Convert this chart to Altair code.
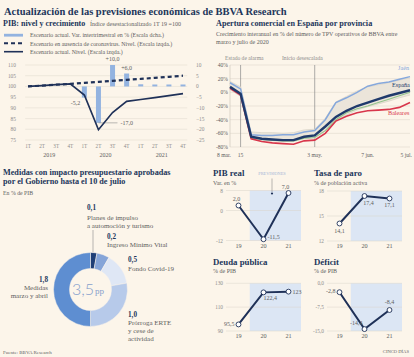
import altair as alt
import pandas as pd

# ---------------- data ----------------
quarter_labels = ["1T", "2T", "3T", "4T"] * 3
year_labels = ["2019", "2020", "2021"]
level_no_covid = [100.0, 100.4, 100.8, 101.2, 101.7, 102.1, 102.6, 103.1, 103.5, 104.0, 104.5, 105.0]
level_actual = [100.0, 100.4, 100.8, 101.2, 96.0, 79.8, 87.8, 93.0, 93.9, 94.8, 95.7, 96.6]
qoq_quarter = [4, 5, 6, 7, 8, 9, 10, 11]
qoq_change = [-5.2, -17.0, 10.0, 6.0, 1.0, 0.9, 0.9, 0.9]
left_ticks = [110, 105, 100, 95, 90, 85, 80, 75]
right_ticks = [10, 5, 0, -5, -10, -15, -20, -25]

week_dates = pd.date_range("2020-03-08", "2020-07-05", freq="7D")
espana = [8, -2, -65, -68, -69, -70, -70, -65, -63, -50, -36, -27, -20, -15, -10, -5, -1, 3]
jaen = [14, 5, -62, -63, -63, -62, -62, -58, -56, -40, -15, -8, 0, 9, 13, 15, 19, 23]
baleares = [6, -4, -68, -72, -74, -75, -76, -71, -70, -60, -42, -35, -30, -27, -26, -25, -22, -15]
otra = [7, -3, -67, -69, -70, -71, -71, -67, -66, -56, -40, -30, -24, -20, -15, -10, -5, 0]
resto_max = [16, 8, -58, -59, -59, -60, -59, -55, -54, -38, -14, -6, 2, 8, 11, 14, 18, 21]
resto_min = [4, -6, -68, -70, -71, -72, -72, -68, -67, -57, -42, -33, -26, -21, -17, -13, -8, -4]
apertura_ticks = [40, 20, 0, -20, -40, -60, -80]
apertura_xlabels = ["8 mar.", "15", "3 may.", "7 jun.", "5 jul."]
apertura_xdates = pd.to_datetime(["2020-03-08", "2020-03-15", "2020-05-03", "2020-06-07", "2020-07-05"])
event_dates = pd.to_datetime(["2020-03-15", "2020-05-03"])

medidas_labels = ["Planes de impulso", "Ingreso Mínimo Vital", "Fondo Covid-19",
                  "Prórroga ERTE", "Medidas marzo y abril"]
medidas_values = [0.1, 0.2, 0.5, 1.0, 1.8]

small_years = [19, 20, 21]
pib_real = [2.0, -11.5, 7.0]
pib_real_txt = ["2,0", "-11,5", "7,0"]
paro = [14.1, 17.4, 17.1]
paro_txt = ["14,1", "17,4", "17,1"]
deuda = [95.5, 122.4, 123.0]
deuda_txt = ["95,5", "122,4", "123"]
deficit = [-2.8, -14.4, -8.4]
deficit_txt = ["-2,8", "-14,4", "-8,4"]

# ---------------- style ----------------
BG = "#fcf5ea"
NAVY = "#1f3158"
HEAD = "#22365a"
GREY = "#5e5e5e"
LGREY = "#8c8c8c"
GRID = "#e4ddd1"
BAR = "#93b3e0"
SHADE = "#dce6f4"
SERIF = "Liberation Serif"
DONUT_COLORS = ["#1f3f77", "#86a5d8", "#dfe7f5", "#b7caea", "#5e8ed1"]

ONE = pd.DataFrame({"k": [0]})


def T(s, x, y, size=6.0, color=GREY, weight="normal", align="left", font=SERIF, **kw):
    return alt.Chart(ONE).mark_text(
        font=font, fontSize=size, fontWeight=weight, color=color,
        align=align, baseline="middle", **kw
    ).encode(x=alt.value(x), y=alt.value(y), text=alt.value(s))


def R(x1, y1, x2, y2, color=NAVY, width=1.0, dash=None):
    kw = dict(color=color, strokeWidth=width)
    if dash:
        kw["strokeDash"] = dash
    return alt.Chart(ONE).mark_rule(**kw).encode(
        x=alt.value(x1), y=alt.value(y1), x2=alt.value(x2), y2=alt.value(y2))


layers = []

# ---------------- headings ----------------
layers.append(T("Actualización de las previsiones económicas de BBVA Research", 4, 12, 10.5, HEAD, "bold"))

# ================= PIB: nivel y crecimiento =================
layers.append(T("PIB: nivel y crecimiento", 3, 24, 8.0, HEAD, "bold"))
layers.append(T("Índice desestacionalizado 1T 19 =100", 90, 24.3, 6.0, GREY))
layers.append(alt.Chart(ONE).mark_rect(color=BAR).encode(
    x=alt.value(4), x2=alt.value(23), y=alt.value(33.8), y2=alt.value(36.6)))
layers.append(R(4, 43.3, 23, 43.3, NAVY, 2.0, [4, 3]))
layers.append(R(4, 51.7, 23, 51.7, NAVY, 1.6))
layers.append(T("Escenario actual. Var. intertrimestral en % (Escala dcha.)", 30, 35.2, 5.9, GREY))
layers.append(T("Escenario en ausencia de coronavirus. Nivel. (Escala izqda.)", 30, 43.5, 5.9, GREY))
layers.append(T("Escenario actual. Nivel. (Escala izqda.)", 30, 51.8, 5.9, GREY))

XP = alt.Scale(domain=[0, 11], range=[23, 188], nice=False, zero=False)
YL = alt.Scale(domain=[75, 110], range=[140, 65], nice=False, zero=False)
YR = alt.Scale(domain=[-25, 10], range=[140, 65], nice=False, zero=False)

pib_df = pd.DataFrame({"i": list(range(12)), "q": quarter_labels,
                       "nc": level_no_covid, "act": level_actual})
qoq_df = pd.DataFrame({"i": qoq_quarter, "v": qoq_change,
                       "t": [("+" if v > 0 else "") + f"{v:.1f}".replace(".", ",") for v in qoq_change]})
rt_df = pd.DataFrame({"v": right_ticks})
lt_df = pd.DataFrame({"v": left_ticks})
yr_df = pd.DataFrame({"p": [4 * k + 1.5 for k in range(3)], "y": year_labels})

xq = alt.X("i:Q", scale=XP, axis=None)
right_group = alt.layer(
    alt.Chart(rt_df).mark_rule(color=GRID, strokeWidth=0.6).encode(
        y=alt.Y("v:Q", scale=YR, axis=None),
        x=alt.XDatum(-0.2, scale=XP, axis=None), x2=alt.X2Datum(11.3)),
    alt.Chart(rt_df).mark_text(align="left", baseline="middle", font=SERIF, fontSize=5.4, color=LGREY).encode(
        y=alt.Y("v:Q", scale=YR, axis=None), x=alt.value(196), text=alt.Text("v:Q", format="d")),
    alt.Chart(qoq_df).mark_bar(size=5, color=BAR).encode(
        x=xq, y=alt.Y("v:Q", scale=YR, axis=None), y2=alt.Y2Datum(0)),
    alt.Chart(qoq_df[qoq_df.i.isin([6, 7])]).mark_text(
        align="center", baseline="middle", dy=-6, font=SERIF, fontSize=6, color=GREY).encode(
        x=xq, y=alt.Y("v:Q", scale=YR, axis=None), text="t:N"),
    alt.Chart(qoq_df[qoq_df.i == 4]).mark_text(
        align="right", baseline="middle", dx=-4, dy=5, font=SERIF, fontSize=6, color=GREY).encode(
        x=xq, y=alt.Y("v:Q", scale=YR, axis=None), text="t:N"),
    alt.Chart(qoq_df[qoq_df.i == 5]).mark_rule(color=LGREY, strokeWidth=0.6).encode(
        x=xq, x2=alt.X2Datum(6.35), y=alt.Y("v:Q", scale=YR, axis=None)),
    alt.Chart(qoq_df[qoq_df.i == 5]).mark_text(
        align="left", baseline="middle", dx=22, font=SERIF, fontSize=6, color=GREY).encode(
        x=xq, y=alt.Y("v:Q", scale=YR, axis=None), text="t:N"),
    alt.Chart(pib_df).mark_text(baseline="middle", font=SERIF, fontSize=5.2, color=LGREY).encode(
        x=xq, y=alt.value(145.5), text="q:N"),
    alt.Chart(yr_df).mark_text(baseline="middle", font=SERIF, fontSize=6, color=GREY).encode(
        x=alt.X("p:Q", scale=XP, axis=None), y=alt.value(154.5), text="y:N"),
)
left_group = alt.layer(
    alt.Chart(lt_df).mark_text(align="right", baseline="middle", font=SERIF, fontSize=5.4, color=LGREY).encode(
        y=alt.Y("v:Q", scale=YL, axis=None), x=alt.value(16), text=alt.Text("v:Q", format="d")),
    alt.Chart(pib_df).mark_line(color=NAVY, strokeWidth=1.7).encode(
        x=xq, y=alt.Y("act:Q", scale=YL, axis=None)),
    alt.Chart(pib_df).mark_line(color=NAVY, strokeWidth=2.2, strokeDash=[4, 3]).encode(
        x=xq, y=alt.Y("nc:Q", scale=YL, axis=None)),
)
layers.append(alt.layer(right_group, left_group).resolve_scale(y="independent"))

# ================= Apertura comercial =================
layers.append(T("Apertura comercial en España por provincia", 216, 24, 8.2, HEAD, "bold"))
layers.append(T("Crecimiento interanual en % del número de TPV operativos de BBVA entre", 216, 34.3, 6.0, GREY))
layers.append(T("marzo y julio de 2020", 216, 42.3, 6.0, GREY))
layers.append(T("Estado de alarma", 225, 57.5, 5.6, LGREY))
layers.append(T("Inicio desescalada", 282, 57.5, 5.6, LGREY))

XA = alt.Scale(domain=[alt.DateTime(year=2020, month=3, date=8), alt.DateTime(year=2020, month=7, date=5)],
               range=[230, 410], nice=False)
YA = alt.Scale(domain=[-80, 40], range=[147, 65], nice=False, zero=False)
ap_df = pd.DataFrame({"d": week_dates, "es": espana, "ja": jaen, "ba": baleares, "ot": otra,
                      "hi": resto_max, "lo": resto_min})
ag_df = pd.DataFrame({"v": apertura_ticks, "t": [f"{v}%" for v in apertura_ticks],
                      "d0": week_dates[0], "d1": week_dates[-1]})
axl_df = pd.DataFrame({"d": apertura_xdates, "t": apertura_xlabels})
ev_df = pd.DataFrame({"d": event_dates})
xa = alt.X("d:T", scale=XA, axis=None)


def ya(f):
    return alt.Y(f, scale=YA, axis=None)


layers.append(alt.layer(
    alt.Chart(ag_df).mark_rule(color=GRID, strokeWidth=0.7).encode(
        y=ya("v:Q"), x=alt.X("d0:T", scale=XA, axis=None), x2="d1:T"),
    alt.Chart(ag_df.iloc[[0]]).mark_rule(color="#cfc8bc", strokeWidth=0.7).encode(
        x=alt.X("d0:T", scale=XA, axis=None), y=alt.YDatum(40, scale=YA, axis=None), y2=alt.Y2Datum(-80)),
    alt.Chart(ag_df).mark_text(align="right", baseline="middle", font=SERIF, fontSize=5.6, color=GREY).encode(
        y=ya("v:Q"), x=alt.value(228), text="t:N"),
    alt.Chart(ev_df).mark_rule(color="#8a8a8a", strokeWidth=0.7).encode(
        x=xa, y=alt.YDatum(40, scale=YA, axis=None), y2=alt.Y2Datum(-80)),
    alt.Chart(axl_df.iloc[[0]]).mark_text(align="right", baseline="middle", dx=1, font=SERIF, fontSize=5.6, color=GREY).encode(
        x=xa, y=alt.value(155), text="t:N"),
    alt.Chart(axl_df.iloc[1:4]).mark_text(align="center", baseline="middle", font=SERIF, fontSize=5.6, color=GREY).encode(
        x=xa, y=alt.value(155), text="t:N"),
    alt.Chart(axl_df.iloc[[4]]).mark_text(align="right", baseline="middle", dx=2, font=SERIF, fontSize=5.6, color=GREY).encode(
        x=xa, y=alt.value(155), text="t:N"),
    alt.Chart(ap_df).mark_area(color="#ebe5da", opacity=1).encode(x=xa, y=ya("lo:Q"), y2="hi:Q"),
    alt.Chart(ap_df).mark_line(color="#d8d2c6", strokeWidth=0.7).encode(x=xa, y=ya("hi:Q")),
    alt.Chart(ap_df).mark_line(color="#d8d2c6", strokeWidth=0.7).encode(x=xa, y=ya("lo:Q")),
    alt.Chart(ap_df).mark_line(color="#93c48b", strokeWidth=1.1).encode(x=xa, y=ya("ot:Q")),
    alt.Chart(ap_df).mark_line(color="#86a8dc", strokeWidth=1.5).encode(x=xa, y=ya("ja:Q")),
    alt.Chart(ap_df).mark_line(color="#d8364b", strokeWidth=1.6).encode(x=xa, y=ya("ba:Q")),
    alt.Chart(ap_df).mark_line(color="#1f3a6b", strokeWidth=2.4).encode(x=xa, y=ya("es:Q")),
))
layers.append(T("Jaén", 398, 68, 6.2, "#86a8dc"))
layers.append(T("España", 392, 84.5, 6.2, "#1f3a6b"))
layers.append(T("Baleares", 388, 113, 6.2, "#d8364b"))

# ================= Medidas (donut) =================
layers.append(T("Medidas con impacto presupuestario aprobadas", 3, 172.5, 8.2, HEAD, "bold"))
layers.append(T("por el Gobierno hasta el 10 de julio", 3, 181.5, 8.2, HEAD, "bold"))
layers.append(T("En % de PIB", 3, 193.3, 5.8, GREY))

donut_df = pd.DataFrame({"m": medidas_labels, "v": medidas_values, "o": list(range(5))})
layers.append(alt.Chart(donut_df).mark_arc(outerRadius=37, innerRadius=21, stroke=BG, strokeWidth=0.5).encode(
    theta=alt.Theta("v:Q", stack=True),
    order=alt.Order("o:Q"),
    color=alt.Color("m:N", scale=alt.Scale(domain=medidas_labels, range=DONUT_COLORS), legend=None),
    x=alt.value(90.5), y=alt.value(289.5)))
layers.append(T("3,5", 83, 290, 16, "#86a0cc", 300, "center", "Lato"))
layers.append(T("pp", 95, 291, 9, "#86a0cc"))
layers.append(R(93, 230, 93, 252, "#9a9a9a", 0.7))

vtxt = [f"{v:.1f}".replace(".", ",") for v in medidas_values]
layers.append(T(vtxt[0], 87, 208.3, 7.2, HEAD, "bold"))
layers.append(T("Planes de impulso", 87, 217.5, 7.0, GREY))
layers.append(T("a automoción y turismo", 87, 226, 7.0, GREY))
layers.append(T(vtxt[1], 107, 236.7, 7.2, HEAD, "bold"))
layers.append(T("Ingreso Mínimo Vital", 107, 245.3, 7.0, GREY))
layers.append(T(vtxt[2], 128, 260.3, 7.2, HEAD, "bold"))
layers.append(T("Fondo Covid-19", 128, 269, 7.0, GREY))
layers.append(T(vtxt[3], 128, 314.5, 7.2, HEAD, "bold"))
layers.append(T("Prórroga ERTE", 128, 323.2, 7.0, GREY))
layers.append(T("y cese de", 128, 331, 7.0, GREY))
layers.append(T("actividad", 128, 338.5, 7.0, GREY))
layers.append(T(vtxt[4], 48, 280, 7.2, HEAD, "bold", "right"))
layers.append(T("Medidas", 48, 288.3, 7.0, GREY, align="right"))
layers.append(T("marzo y abril", 48, 296, 7.0, GREY, align="right"))

layers.append(T("Fuente: BBVA Research", 3, 351.5, 5.0, GREY))
layers.append(T("CINCO DÍAS", 409, 351.5, 4.6, GREY, align="right"))


# ================= small charts =================
def small_panel(xr, ydom, yr, values, vtext, ticks, tick_text, specs):
    xs = alt.Scale(domain=[18.5, 21.5], range=xr, nice=False, zero=False)
    ys = alt.Scale(domain=ydom, range=yr, nice=False, zero=False)
    df = pd.DataFrame({"a": small_years, "v": values, "t": vtext})
    tk = pd.DataFrame({"v": ticks, "t": tick_text})
    X = alt.X("a:Q", scale=xs, axis=None)
    Y = alt.Y("v:Q", scale=ys, axis=None)
    parts = [
        alt.Chart(ONE).mark_rect(color=SHADE).encode(
            x=alt.XDatum(19.45, scale=xs, axis=None), x2=alt.X2Datum(21.5),
            y=alt.YDatum(max(ydom), scale=ys, axis=None), y2=alt.Y2Datum(min(ydom))),
        alt.Chart(tk).mark_rule(color="#d9d3c9", strokeWidth=0.6, opacity=0.8).encode(
            y=Y, x=alt.XDatum(18.5, scale=xs, axis=None), x2=alt.X2Datum(21.5)),
        alt.Chart(tk).mark_text(align="right", baseline="middle", font=SERIF, fontSize=5.3, color=LGREY).encode(
            y=Y, x=alt.value(xr[0] - 3), text="t:N"),
        alt.Chart(df).mark_text(baseline="middle", font=SERIF, fontSize=6.2, color=GREY).encode(
            x=X, y=alt.value(yr[0] + 5), text=alt.Text("a:Q", format="d")),
        alt.Chart(df).mark_line(color=NAVY, strokeWidth=2).encode(x=X, y=Y),
        alt.Chart(df).mark_point(filled=True, fill="white", stroke=NAVY, strokeWidth=0.9,
                                 size=24, opacity=1).encode(x=X, y=Y),
    ]
    for i, dx, dy, al in specs:
        parts.append(alt.Chart(df.iloc[[i]]).mark_text(
            align=al, baseline="middle", dx=dx, dy=dy, font=SERIF, fontSize=6.0, color=GREY).encode(
            x=X, y=Y, text="t:N"))
    return alt.layer(*parts)


layers.append(T("PIB real", 213, 173, 8.8, HEAD, "bold"))
layers.append(T("Var. en %", 213, 182.7, 6.0, GREY))
layers.append(small_panel([226, 301], [-12, 8], [240.5, 190.5], pib_real, pib_real_txt,
                          [8, 0, -12], ["8", "0", "-12"],
                          [(0, -2, -6.5, "center"), (1, 4, -2, "left"), (2, -3, -6.5, "center")]))
layers.append(T("PREVISIONES", 272, 174, 4.3, "#9fb3d6", align="center"))
layers.append(R(272, 178.5, 272, 192, "#8a8a8a", 0.6))
layers.append(alt.Chart(ONE).mark_point(filled=True, color=NAVY, size=5, opacity=1).encode(
    x=alt.value(272), y=alt.value(193.5)))

layers.append(T("Tasa de paro", 314, 173, 8.8, HEAD, "bold"))
layers.append(T("% de población activa", 314, 182.7, 6.0, GREY))
layers.append(small_panel([327, 402], [12, 18], [241, 191], paro, paro_txt,
                          [18, 15, 12], ["18", "15", "12"],
                          [(0, 0, 7, "center"), (1, 4, 6.5, "center"), (2, 0, 6.5, "center")]))

layers.append(T("Deuda pública", 213, 261.7, 8.8, HEAD, "bold"))
layers.append(T("% de PIB", 213, 271, 6.0, GREY))
layers.append(small_panel([226, 301], [90, 130], [331, 283.3], deuda, deuda_txt,
                          [130, 110, 90], ["130", "110", "90"],
                          [(0, -4, 0, "right"), (1, 0, 6, "left"), (2, 4, 0, "left")]))

layers.append(T("Déficit", 314, 261.7, 8.8, HEAD, "bold"))
layers.append(T("% de PIB", 314, 271, 6.0, GREY))
layers.append(small_panel([327, 402], [-15, 0], [331, 283.3], deficit, deficit_txt,
                          [0, -7.5, -15], ["0,0", "-7,5", "-15,0"],
                          [(0, -4, -1, "right"), (1, -2, -6, "right"), (2, 0, -8, "center")]))

chart = alt.layer(*layers).resolve_scale(
    x="independent", y="independent", color="independent", theta="independent"
).properties(
    width=414, height=357, background=BG, padding=0,
    autosize=alt.AutoSizeParams(type="none"),
).configure_view(strokeWidth=0)

chart.save("out.html", embed_options={"renderer": "svg", "actions": False})
